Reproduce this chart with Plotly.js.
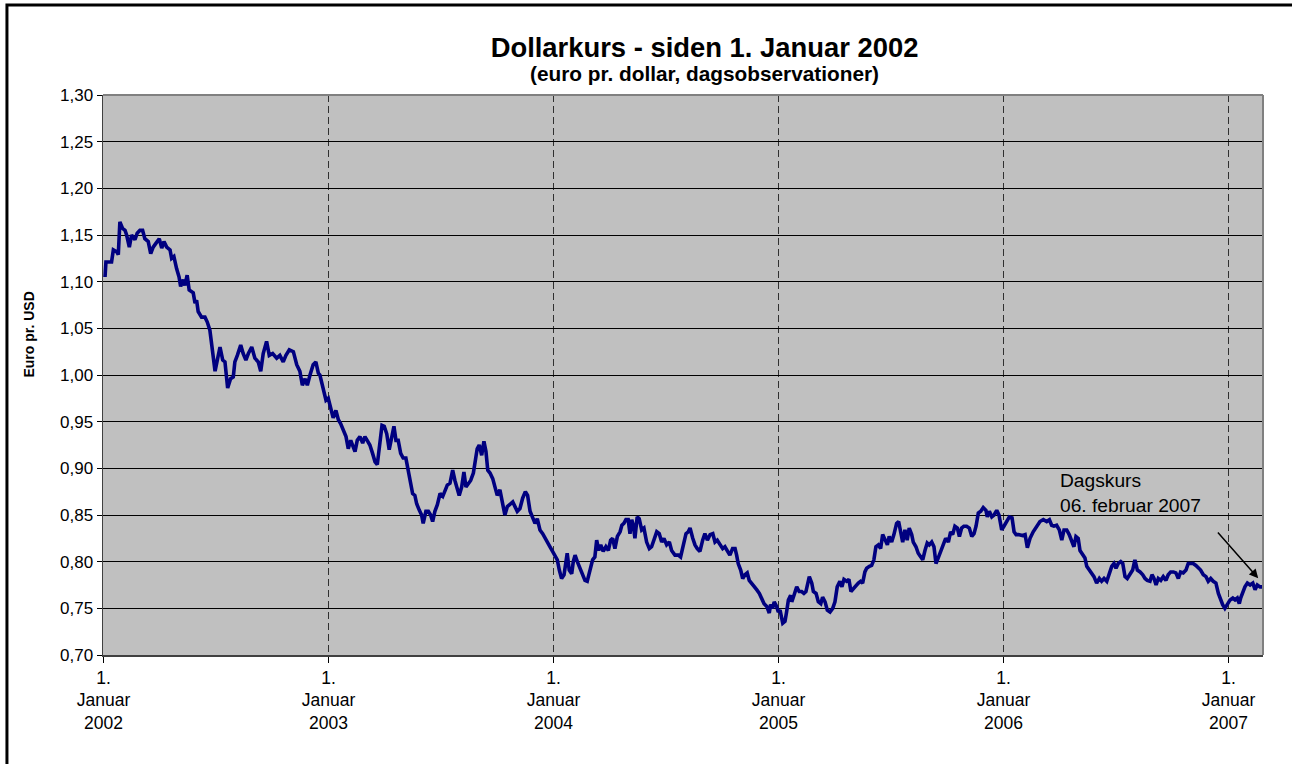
<!DOCTYPE html>
<html>
<head>
<meta charset="utf-8">
<script src="https://cdn.plot.ly/plotly-3.0.1.min.js"></script>
<style>
  html, body { margin: 0; padding: 0; background: #ffffff; }
  #chart { width: 1292px; height: 764px; }
</style>
</head>
<body>
<div id="chart"></div>
<script>
// Time position expressed in years (2002.0 = 1. januar 2002)
const yearPos = [
2002.007,2002.011,2002.036,2002.044,2002.059,2002.066,2002.073,2002.085,2002.096,2002.103,
2002.115,2002.125,2002.140,2002.150,2002.162,2002.174,2002.184,2002.199,2002.210,2002.221,
2002.233,2002.248,2002.259,2002.269,2002.281,2002.296,2002.303,2002.313,2002.325,2002.336,
2002.343,2002.355,2002.362,2002.372,2002.381,2002.399,2002.407,2002.414,2002.421,2002.436,
2002.451,2002.461,2002.473,2002.485,2002.496,2002.506,2002.518,2002.530,2002.540,2002.552,
2002.565,2002.577,2002.584,2002.595,2002.610,2002.621,2002.633,2002.644,2002.659,2002.673,
2002.688,2002.699,2002.710,2002.725,2002.737,2002.752,2002.770,2002.784,2002.799,2002.811,
2002.826,2002.844,2002.859,2002.873,2002.884,2002.896,2002.906,2002.918,2002.932,2002.944,
2002.955,2002.962,2002.977,2002.989,2002.999,2003.010,2003.021,2003.033,2003.044,2003.054,
2003.066,2003.078,2003.088,2003.099,2003.110,2003.118,2003.128,2003.140,2003.152,2003.162,
2003.172,2003.184,2003.196,2003.207,2003.217,2003.226,2003.238,2003.248,2003.259,2003.270,
2003.281,2003.291,2003.300,2003.310,2003.321,2003.332,2003.344,2003.355,2003.365,2003.374,
2003.384,2003.392,2003.404,2003.414,2003.421,2003.433,2003.444,2003.454,2003.463,2003.473,
2003.484,2003.496,2003.508,2003.518,2003.528,2003.540,2003.552,2003.562,2003.570,2003.581,
2003.592,2003.602,2003.611,2003.621,2003.632,2003.644,2003.652,2003.661,2003.670,2003.681,
2003.691,2003.700,2003.708,2003.718,2003.730,2003.740,2003.750,2003.762,2003.774,2003.784,
2003.795,2003.807,2003.819,2003.829,2003.839,2003.851,2003.863,2003.875,2003.885,2003.896,
2003.908,2003.918,2003.928,2003.940,2003.952,2003.962,2003.972,2003.984,2003.996,2004.011,
2004.017,2004.026,2004.036,2004.047,2004.056,2004.061,2004.070,2004.081,2004.088,2004.096,
2004.106,2004.118,2004.130,2004.140,2004.150,2004.162,2004.174,2004.184,2004.192,2004.201,
2004.210,2004.221,2004.233,2004.244,2004.254,2004.263,2004.273,2004.284,2004.296,2004.304,
2004.313,2004.322,2004.332,2004.340,2004.348,2004.355,2004.362,2004.372,2004.381,2004.392,
2004.402,2004.414,2004.426,2004.436,2004.447,2004.459,2004.470,2004.481,2004.491,2004.503,
2004.515,2004.525,2004.540,2004.555,2004.565,2004.577,2004.589,2004.599,2004.607,2004.619,
2004.629,2004.639,2004.651,2004.663,2004.673,2004.684,2004.696,2004.708,2004.718,2004.728,
2004.740,2004.752,2004.762,2004.772,2004.784,2004.796,2004.807,2004.814,2004.821,2004.832,
2004.841,2004.851,2004.861,2004.870,2004.881,2004.891,2004.903,2004.915,2004.925,2004.936,
2004.948,2004.959,2004.965,2004.974,2004.981,2004.992,2004.999,2005.007,2005.019,2005.029,
2005.036,2005.044,2005.054,2005.059,2005.069,2005.081,2005.092,2005.103,2005.113,2005.122,
2005.137,2005.148,2005.155,2005.167,2005.177,2005.188,2005.196,2005.207,2005.217,2005.229,
2005.241,2005.251,2005.261,2005.273,2005.282,2005.291,2005.303,2005.313,2005.322,2005.332,
2005.344,2005.355,2005.365,2005.374,2005.384,2005.392,2005.404,2005.414,2005.424,2005.433,
2005.444,2005.454,2005.463,2005.473,2005.484,2005.492,2005.503,2005.513,2005.525,2005.534,
2005.543,2005.552,2005.562,2005.572,2005.581,2005.592,2005.599,2005.611,2005.621,2005.632,
2005.641,2005.651,2005.661,2005.670,2005.681,2005.691,2005.700,2005.710,2005.721,2005.732,
2005.743,2005.755,2005.765,2005.774,2005.784,2005.795,2005.804,2005.814,2005.824,2005.836,
2005.848,2005.859,2005.869,2005.878,2005.888,2005.899,2005.910,2005.922,2005.928,2005.937,
2005.948,2005.958,2005.970,2005.980,2005.992,2006.002,2006.014,2006.026,2006.038,2006.047,
2006.056,2006.066,2006.085,2006.096,2006.106,2006.118,2006.132,2006.148,2006.162,2006.177,
2006.192,2006.204,2006.214,2006.224,2006.236,2006.248,2006.259,2006.269,2006.281,2006.292,
2006.303,2006.313,2006.322,2006.332,2006.340,2006.352,2006.362,2006.370,2006.381,2006.392,
2006.402,2006.414,2006.426,2006.436,2006.447,2006.459,2006.470,2006.481,2006.491,2006.500,
2006.510,2006.521,2006.530,2006.540,2006.550,2006.562,2006.574,2006.584,2006.595,2006.607,
2006.619,2006.629,2006.639,2006.651,2006.660,2006.669,2006.678,2006.688,2006.699,2006.710,
2006.722,2006.732,2006.743,2006.755,2006.766,2006.777,2006.787,2006.799,2006.811,2006.821,
2006.832,2006.843,2006.855,2006.866,2006.876,2006.888,2006.900,2006.910,2006.921,2006.932,
2006.944,2006.955,2006.965,2006.974,2006.984,2006.995,2007.007,2007.019,2007.029,2007.039,
2007.048,2007.054,2007.063,2007.073,2007.084,2007.096,2007.108,2007.118,2007.128,2007.140,
2007.150
];

// Euro per USD
const eurPerUsd = [
1.105,1.121,1.121,1.134,1.132,1.129,1.164,1.157,1.155,1.150,
1.137,1.150,1.145,1.152,1.155,1.155,1.146,1.143,1.130,1.137,
1.141,1.146,1.136,1.143,1.137,1.134,1.125,1.127,1.114,1.105,
1.095,1.102,1.096,1.107,1.091,1.088,1.077,1.080,1.068,1.062,
1.062,1.057,1.048,1.023,1.004,1.016,1.030,1.016,1.014,0.986,
0.996,0.998,1.014,1.021,1.032,1.023,1.016,1.023,1.030,1.018,
1.014,1.004,1.023,1.036,1.021,1.023,1.018,1.021,1.014,1.021,
1.027,1.025,1.011,1.004,0.989,0.996,0.989,1.000,1.011,1.014,
1.002,1.000,0.986,0.973,0.975,0.964,0.954,0.962,0.952,0.948,
0.941,0.934,0.921,0.930,0.923,0.918,0.930,0.934,0.927,0.934,
0.930,0.925,0.916,0.907,0.904,0.923,0.946,0.945,0.937,0.920,
0.934,0.945,0.930,0.930,0.916,0.911,0.911,0.895,0.884,0.873,
0.871,0.862,0.855,0.850,0.841,0.854,0.854,0.850,0.843,0.854,
0.861,0.873,0.870,0.877,0.882,0.884,0.898,0.887,0.880,0.871,
0.880,0.896,0.880,0.884,0.887,0.895,0.909,0.921,0.925,0.914,
0.929,0.918,0.898,0.895,0.889,0.880,0.871,0.877,0.859,0.850,
0.859,0.861,0.864,0.859,0.854,0.857,0.868,0.875,0.871,0.854,
0.846,0.841,0.846,0.834,0.830,0.825,0.820,0.816,0.811,0.804,
0.802,0.791,0.782,0.786,0.802,0.809,0.791,0.787,0.800,0.807,
0.800,0.793,0.786,0.780,0.779,0.791,0.802,0.805,0.823,0.812,
0.818,0.811,0.816,0.812,0.823,0.825,0.814,0.827,0.832,0.839,
0.841,0.845,0.845,0.830,0.845,0.839,0.825,0.848,0.846,0.834,
0.836,0.821,0.814,0.816,0.825,0.832,0.830,0.821,0.825,0.818,
0.821,0.812,0.807,0.807,0.805,0.818,0.830,0.832,0.836,0.825,
0.818,0.814,0.811,0.823,0.830,0.823,0.829,0.830,0.821,0.823,
0.818,0.814,0.816,0.811,0.807,0.814,0.814,0.807,0.798,0.791,
0.782,0.786,0.788,0.780,0.777,0.773,0.770,0.766,0.761,0.755,
0.752,0.745,0.754,0.750,0.757,0.752,0.746,0.748,0.734,0.736,
0.746,0.759,0.764,0.757,0.764,0.773,0.768,0.768,0.766,0.768,
0.784,0.777,0.768,0.766,0.757,0.755,0.762,0.757,0.748,0.746,
0.750,0.757,0.773,0.779,0.773,0.781,0.779,0.781,0.768,0.771,
0.775,0.777,0.779,0.777,0.789,0.793,0.795,0.796,0.802,0.816,
0.818,0.814,0.829,0.823,0.818,0.827,0.821,0.829,0.841,0.843,
0.834,0.821,0.834,0.823,0.836,0.829,0.821,0.816,0.809,0.805,
0.802,0.812,0.820,0.818,0.821,0.816,0.798,0.804,0.811,0.816,
0.825,0.821,0.832,0.829,0.838,0.836,0.827,0.836,0.838,0.838,
0.836,0.827,0.830,0.838,0.852,0.854,0.858,0.855,0.848,0.854,
0.848,0.850,0.855,0.850,0.834,0.838,0.843,0.848,0.847,0.832,
0.829,0.829,0.828,0.829,0.815,0.825,0.832,0.838,0.843,0.845,
0.843,0.845,0.839,0.838,0.839,0.834,0.823,0.834,0.834,0.829,
0.823,0.816,0.827,0.825,0.812,0.807,0.804,0.795,0.791,0.786,
0.784,0.777,0.782,0.779,0.782,0.779,0.786,0.795,0.798,0.793,
0.798,0.800,0.798,0.784,0.782,0.786,0.791,0.802,0.791,0.789,
0.786,0.782,0.780,0.779,0.786,0.782,0.775,0.782,0.780,0.784,
0.780,0.786,0.789,0.789,0.788,0.782,0.789,0.788,0.791,0.798,
0.798,0.798,0.796,0.793,0.791,0.786,0.784,0.779,0.782,0.779,
0.777,0.766,0.759,0.754,0.750,0.754,0.759,0.761,0.759,0.761,
0.755,0.761,0.768,0.773,0.777,0.775,0.777,0.770,0.775,0.773,
0.773
];

const tickYears = [2002, 2003, 2004, 2005, 2006, 2007];
const tickLabels = ["1.<br>Januar<br>2002", "1.<br>Januar<br>2003", "1.<br>Januar<br>2004",
                    "1.<br>Januar<br>2005", "1.<br>Januar<br>2006", "1.<br>Januar<br>2007"];

const FONT = "Liberation Sans, Arial, sans-serif";

const trace = {
  type: "scatter",
  mode: "lines",
  x: yearPos,
  y: eurPerUsd,
  line: { color: "#000080", width: 3.6 },
  hoverinfo: "x+y",
  showlegend: false
};

const layout = {
  width: 1292,
  height: 764,
  margin: { l: 103, r: 29, t: 95, b: 109 },
  paper_bgcolor: "#ffffff",
  plot_bgcolor: "#C0C0C0",
  separators: ",.",
  font: { family: FONT, color: "#000000", size: 16 },
  title: {
    text: "<b>Dollarkurs - siden 1. Januar 2002</b>",
    font: { family: FONT, size: 27.4, color: "#000000" },
    xref: "container", yref: "container",
    x: 0.5453, xanchor: "center",
    y: 0.9385, yanchor: "middle"
  },
  xaxis: {
    range: [2001.998, 2007.1533],
    tickmode: "array",
    tickvals: tickYears,
    ticktext: tickLabels,
    tickfont: { family: FONT, size: 17.5, color: "#000000" },
    ticks: "outside", ticklen: 6, tickcolor: "#000000", tickwidth: 1,
    showgrid: true, gridcolor: "#303030", gridwidth: 1, griddash: "7px,4px",
    showline: true, linecolor: "#404040", linewidth: 1.5,
    zeroline: false,
    fixedrange: true
  },
  yaxis: {
    range: [0.70, 1.30],
    tick0: 0.70, dtick: 0.05,
    tickformat: ".2f",
    tickfont: { family: FONT, size: 17, color: "#000000" },
    ticks: "outside", ticklen: 5, tickcolor: "#000000", tickwidth: 1,
    showgrid: true, gridcolor: "#000000", gridwidth: 1,
    showline: true, linecolor: "#404040", linewidth: 1.5,
    zeroline: false,
    fixedrange: true
  },
  shapes: [
    { type: "line", xref: "paper", yref: "paper", x0: 0, x1: 1, y0: 1, y1: 1,
      line: { color: "#808080", width: 2 }, layer: "above" },
    { type: "line", xref: "paper", yref: "paper", x0: 1, x1: 1, y0: 0, y1: 1,
      line: { color: "#808080", width: 2 }, layer: "above" },
    { type: "rect", xref: "paper", yref: "paper", x0: -0.0828, x1: 1.15, y0: -0.3, y1: 1.1607,
      line: { color: "#000000", width: 3 }, fillcolor: "rgba(0,0,0,0)", layer: "above" }
  ],
  annotations: [
    { xref: "paper", yref: "paper", x: 0.5185, y: 1.0384, xanchor: "center", yanchor: "middle",
      text: "<b>(euro pr. dollar, dagsobservationer)</b>", showarrow: false,
      font: { family: FONT, size: 20.8, color: "#000000" } },
    { xref: "paper", yref: "paper", x: -0.0642, y: 0.5714, xanchor: "center", yanchor: "middle",
      textangle: -90, text: "<b>Euro pr. USD</b>", showarrow: false,
      font: { family: FONT, size: 14, color: "#000000" } },
    { xref: "x", yref: "y", x: 2006.242, y: 0.8736, xanchor: "left", yanchor: "middle", align: "left",
      text: "Dagskurs<br>06. februar 2007", showarrow: false,
      font: { family: FONT, size: 19.2, color: "#000000" } },
    { xref: "x", yref: "y", x: 2007.132, y: 0.7822, axref: "x", ayref: "y", ax: 2006.947, ay: 0.8329,
      text: "", showarrow: true, arrowhead: 2, arrowsize: 1.2, arrowwidth: 1.5, arrowcolor: "#000000" }
  ]
};

Plotly.newPlot("chart", [trace], layout, { displayModeBar: false, staticPlot: true });
</script>
</body>
</html>
